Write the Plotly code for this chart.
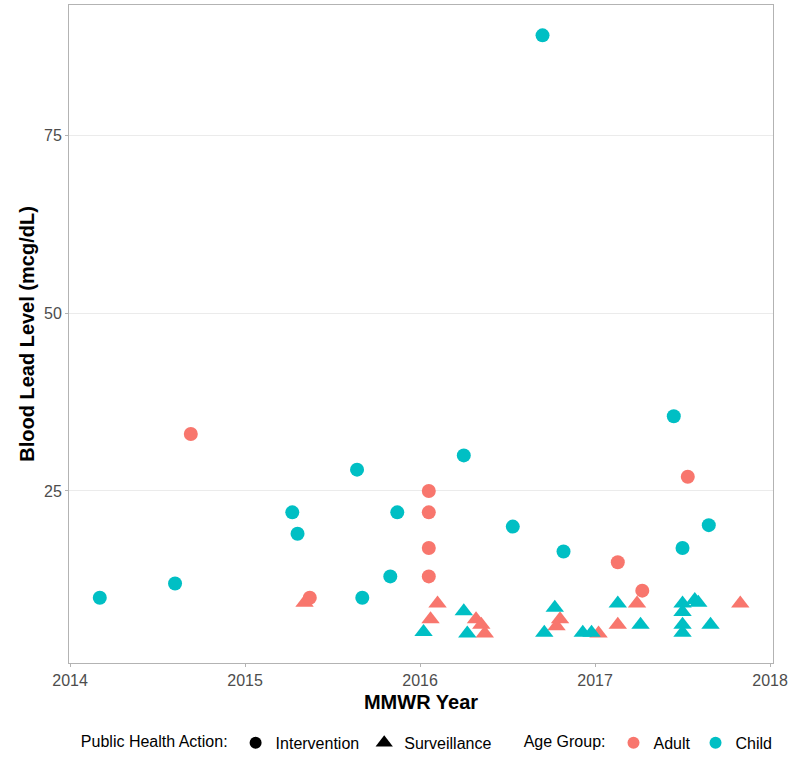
import plotly.graph_objects as go

# Intervention (circles)
int_adult_x = [2014.69, 2015.37, 2016.05, 2016.05, 2016.05, 2016.05, 2017.13, 2017.27, 2017.53]
int_adult_y = [33, 10, 25, 22, 17, 13, 15, 11, 27]
int_child_x = [2014.17, 2014.60, 2015.27, 2015.30, 2015.64, 2015.67, 2015.83, 2015.87,
               2016.25, 2016.53, 2016.70, 2016.82, 2017.45, 2017.50, 2017.65]
int_child_y = [10, 12, 22, 19, 28, 10, 13, 22, 30, 20, 89, 16.5, 35.5, 17, 20.2]

# Surveillance (triangles)
sur_adult_x = [2015.34, 2016.10, 2016.06, 2016.32, 2016.35, 2016.37, 2016.80, 2016.78,
               2017.02, 2017.24, 2017.13, 2017.83]
sur_adult_y = [9.3, 9.2, 7, 7, 6.2, 5, 7, 6, 5, 9.2, 6.2, 9.2]
sur_child_x = [2016.02, 2016.25, 2016.27, 2016.77, 2016.71, 2016.93, 2016.98, 2017.13,
               2017.26, 2017.50, 2017.50, 2017.50, 2017.50, 2017.57, 2017.59, 2017.66]
sur_child_y = [5.2, 8.1, 5, 8.6, 5.1, 5.1, 5.1, 9.2, 6.2, 9.2, 8.0, 6.2, 5.1, 9.7, 9.3, 6.2]

x_ticks = [2014, 2015, 2016, 2017, 2018]
y_ticks = [25, 50, 75]

RED = "#F8766D"
TEAL = "#00BFC4"
FONT = "Liberation Sans, Arial, sans-serif"

fig = go.Figure()

# data traces
fig.add_trace(go.Scatter(x=sur_adult_x, y=sur_adult_y, mode="markers", showlegend=False,
                         marker=dict(symbol="triangle-up", size=16, color=RED)))
fig.add_trace(go.Scatter(x=sur_child_x, y=sur_child_y, mode="markers", showlegend=False,
                         marker=dict(symbol="triangle-up", size=16, color=TEAL)))
fig.add_trace(go.Scatter(x=int_adult_x, y=int_adult_y, mode="markers", showlegend=False,
                         marker=dict(symbol="circle", size=14, color=RED)))
fig.add_trace(go.Scatter(x=int_child_x, y=int_child_y, mode="markers", showlegend=False,
                         marker=dict(symbol="circle", size=14, color=TEAL)))

# legend entries
fig.add_trace(go.Scatter(x=[None], y=[None], mode="markers", name="Intervention",
                         marker=dict(symbol="circle", size=12, color="black"), legend="legend"))
fig.add_trace(go.Scatter(x=[None], y=[None], mode="markers", name="Surveillance",
                         marker=dict(symbol="triangle-up", size=15, color="black"), legend="legend"))
fig.add_trace(go.Scatter(x=[None], y=[None], mode="markers", name="Adult",
                         marker=dict(symbol="circle", size=12, color=RED), legend="legend2"))
fig.add_trace(go.Scatter(x=[None], y=[None], mode="markers", name="Child",
                         marker=dict(symbol="circle", size=12, color=TEAL), legend="legend2"))

LEG_FONT = dict(color="black", size=16, family=FONT)

fig.update_layout(
    width=796, height=758,
    margin=dict(l=69, r=23, t=5, b=95, autoexpand=False),
    paper_bgcolor="white", plot_bgcolor="white",
    font=dict(family=FONT, size=16, color="#4D4D4D"),
    legend=dict(orientation="h", x=0.014, y=-0.1214, xanchor="left", yanchor="middle",
                title=dict(text="Public Health Action:", side="left", font=LEG_FONT),
                font=LEG_FONT, itemwidth=30, tracegroupgap=0,
                bgcolor="rgba(0,0,0,0)"),
    legend2=dict(orientation="h", x=0.643, y=-0.1214, xanchor="left", yanchor="middle",
                 title=dict(text="Age Group:", side="left", font=LEG_FONT),
                 font=LEG_FONT, itemwidth=30, tracegroupgap=0,
                 bgcolor="rgba(0,0,0,0)"),
    xaxis=dict(range=[2013.994, 2018.017], tickvals=x_ticks, ticktext=[str(v) for v in x_ticks],
               showgrid=False, zeroline=False, showline=True, mirror=True, linecolor="#B3B3B3",
               linewidth=1, ticks="outside", ticklen=3, tickcolor="#B3B3B3", automargin=False,
               tickfont=dict(size=16, color="#4D4D4D"),
               title=dict(text="<b>MMWR Year</b>", font=dict(size=20, color="black"), standoff=6)),
    yaxis=dict(range=[0.84, 93.26], tickvals=y_ticks, ticktext=[str(v) for v in y_ticks],
               showgrid=True, gridcolor="#EBEBEB", gridwidth=1, zeroline=False,
               showline=True, mirror=True, linecolor="#B3B3B3", linewidth=1, automargin=False,
               ticks="outside", ticklen=3, tickcolor="#B3B3B3",
               tickfont=dict(size=16, color="#4D4D4D"),
               title=dict(text="<b>Blood Lead Level (mcg/dL)</b>", font=dict(size=20, color="black"),
                          standoff=4)),
)

fig.write_html("out.html", config={"displayModeBar": False},
               post_script="document.body.style.margin='0';")
